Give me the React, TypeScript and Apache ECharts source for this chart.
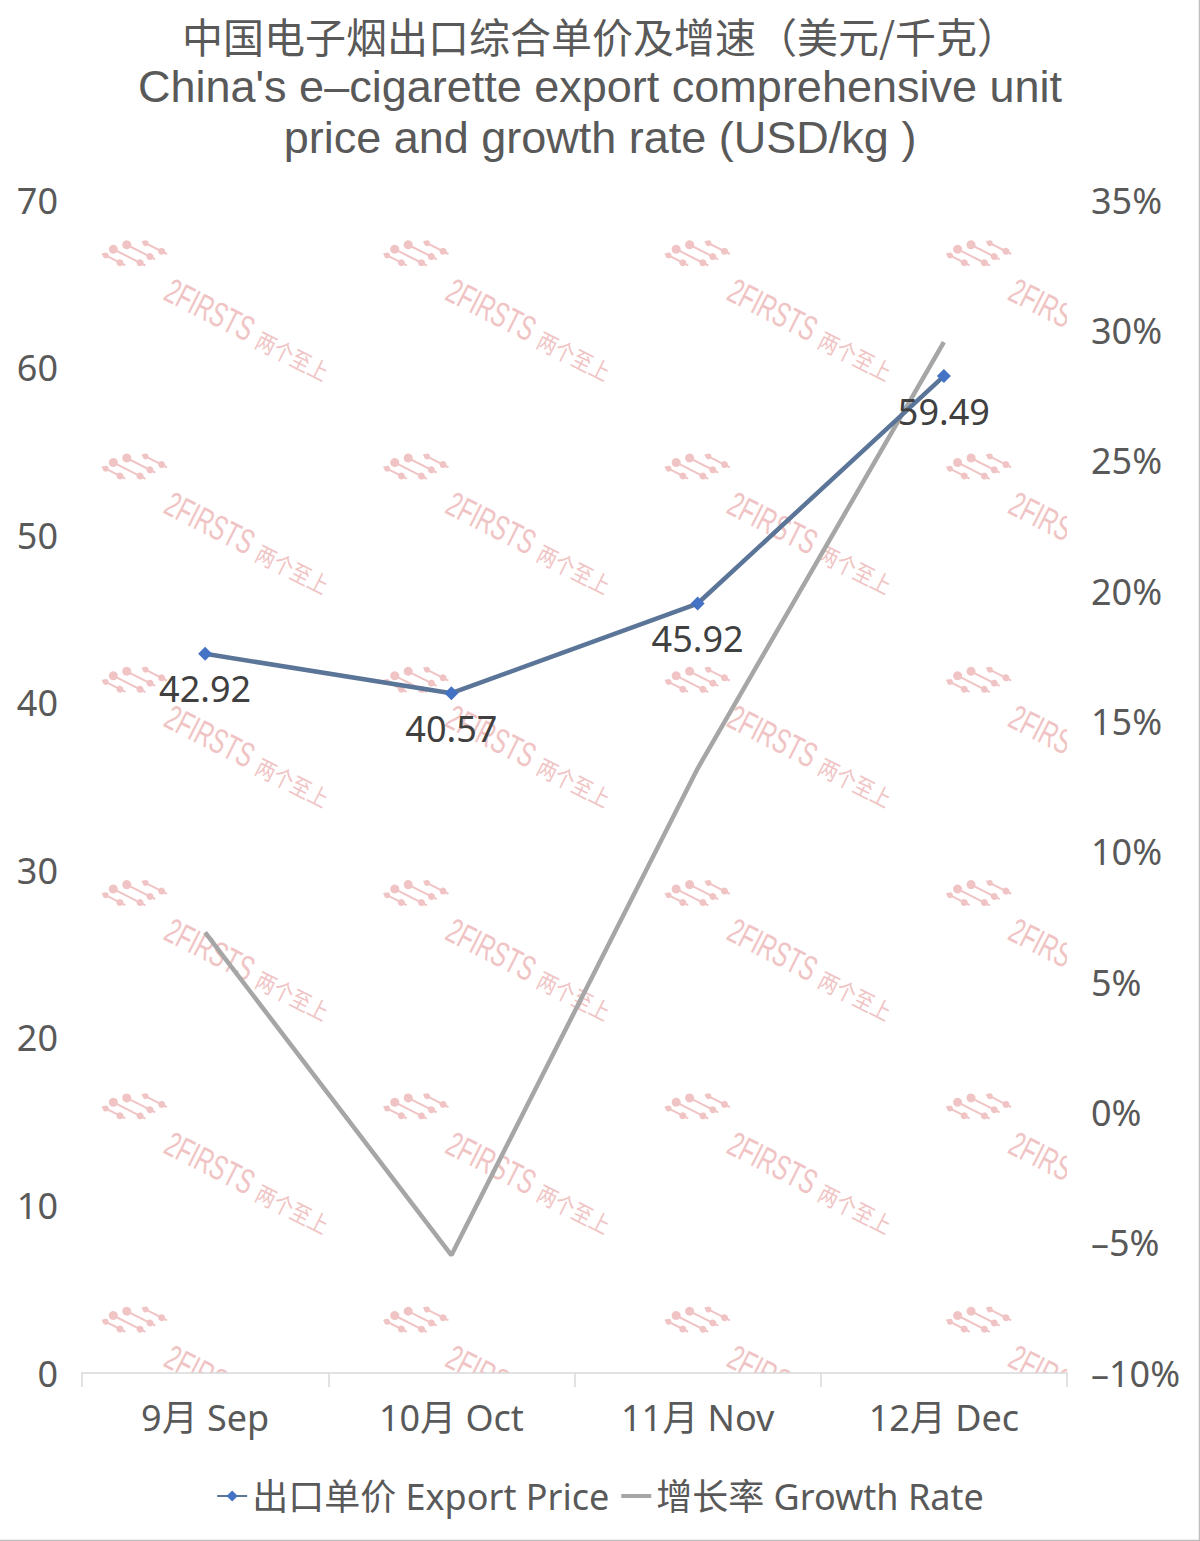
import React, { useEffect, useRef } from "react";
import * as echarts from "echarts";

const categories = ["9月 Sep", "10月 Oct", "11月 Nov", "12月 Dec"];
const exportPrice = [42.92, 40.57, 45.92, 59.49];
const growthRate = [0.069, -0.0548, 0.1319, 0.2955];
const leftTicks = { min: 0, max: 70, interval: 10 };
const rightTicks = { min: -0.1, max: 0.35, interval: 0.05 };
const titleLines = [
  "中国电子烟出口综合单价及增速（美元/千克）",
  "China's e–cigarette export comprehensive unit",
  "price and growth rate (USD/kg )",
];
const priceName = "出口单价 Export Price";
const growthName = "增长率 Growth Rate";

const FONT = "'Noto Sans', 'Noto Sans CJK SC', sans-serif";
const TITLE_LATIN = "'Liberation Sans', 'Noto Sans CJK SC', sans-serif";
const TITLE_CJK = "'Noto Sans CJK SC', sans-serif";
const WM = "#f0c4c4";

function watermark(ox: number, oy: number) {
  const dots: any[] = [];
  const rows = [
    [30, 58, -16],
    [14, 50, -6],
    [4, 44, 4],
    [0, 26, 13],
  ];
  rows.forEach(([a, b, y], k) => {
    dots.push({ type: "line", shape: { x1: a, y1: y, x2: b, y2: y }, style: { stroke: WM, lineWidth: 2 } });
    dots.push({ type: "circle", shape: { cx: a + 4, cy: y, r: k === 1 || k === 2 ? 4.5 : 3 }, style: { fill: WM } });
    dots.push({ type: "circle", shape: { cx: b - 6, cy: y, r: 3.5 }, style: { fill: WM } });
  });
  return {
    type: "group",
    x: ox,
    y: oy,
    rotation: -0.47,
    children: [
      ...dots,
      {
        type: "text",
        x: 74,
        y: 14,
        scaleX: 0.66,
        style: { text: "2FIRSTS", fontSize: 35, fontFamily: "'Liberation Sans', sans-serif", fill: WM, verticalAlign: "middle", align: "left" },
      },
      {
        type: "text",
        x: 177,
        y: 17,
        scaleX: 0.85,
        style: { text: "两个至上", fontSize: 23, fontFamily: "'Noto Sans CJK SC', sans-serif", fill: WM, verticalAlign: "middle", align: "left" },
      },
    ],
  };
}

export default function App() {
  const ref = useRef<HTMLDivElement>(null);
  useEffect(() => {
    document.body.style.margin = "0";
    const chart = echarts.init(ref.current!, undefined, { renderer: "svg" });
    const titleGraphics = titleLines.map((t, i) => ({
      type: "text",
      x: 600,
      y: 35 + i * 51,
      style: {
        text: t,
        align: "center",
        verticalAlign: "middle",
        fontSize: i === 0 ? 41 : 45,
        fontFamily: i === 0 ? TITLE_CJK : TITLE_LATIN,
        fill: "#595959",
      },
    }));
    const option: any = {
      animation: false,
      backgroundColor: "#ffffff",
      textStyle: { fontFamily: FONT },
      grid: { left: 82, right: 133, top: 200, bottom: 168, containLabel: false },
      legend: {
        data: [
          { name: priceName },
          { name: growthName, icon: "path://M0,0 L30,0 L30,4 L0,4 Z" },
        ],
        bottom: 22,
        left: "center",
        itemWidth: 30,
        itemHeight: 14,
        itemGap: 12,
        textStyle: { fontSize: 36, color: "#595959", fontFamily: FONT },
      },
      xAxis: {
        type: "category",
        data: categories,
        boundaryGap: true,
        axisLine: { lineStyle: { color: "#d9d9d9", width: 1.5 } },
        axisTick: { show: true, length: 14, lineStyle: { color: "#d9d9d9", width: 1.5 } },
        axisLabel: { fontSize: 36, color: "#595959", margin: 26, fontFamily: FONT },
        splitLine: { show: false },
      },
      yAxis: [
        {
          type: "value",
          min: leftTicks.min,
          max: leftTicks.max,
          interval: leftTicks.interval,
          axisLine: { show: false },
          axisTick: { show: false },
          splitLine: { show: false },
          axisLabel: { fontSize: 36, color: "#595959", margin: 24, fontFamily: FONT },
        },
        {
          type: "value",
          min: rightTicks.min,
          max: rightTicks.max,
          interval: rightTicks.interval,
          axisLine: { show: false },
          axisTick: { show: false },
          splitLine: { show: false },
          axisLabel: {
            fontSize: 36,
            color: "#595959",
            margin: 24,
            fontFamily: FONT,
            formatter: (v: number) => {
              const p = Math.round(v * 100);
              return (p < 0 ? "–" + Math.abs(p) : String(p)) + "%";
            },
          },
        },
      ],
      series: [
        {
          type: "custom",
          name: "wm",
          xAxisIndex: 0,
          yAxisIndex: 0,
          clip: true,
          silent: true,
          z: 0,
          data: [[0, 0]],
          renderItem: (params: any) => {
            const cs = params.coordSys;
            const children: any[] = [];
            for (let i = 0; i < 4; i++) {
              for (let j = 0; j < 6; j++) {
                children.push(watermark(cs.x + 26 + (cs.width * i) / 3.5, cs.y + 42 + (cs.height * j) / 5.5));
              }
            }
            return { type: "group", children };
          },
        },
        {
          name: growthName,
          type: "line",
          yAxisIndex: 1,
          data: growthRate,
          showSymbol: false,
          symbol: "none",
          lineStyle: { color: "#a6a6a6", width: 4.5 },
          itemStyle: { color: "#a6a6a6" },
          z: 2,
        },
        {
          name: priceName,
          type: "line",
          yAxisIndex: 0,
          data: exportPrice,
          symbol: "diamond",
          symbolSize: 14,
          lineStyle: { color: "#5a7597", width: 4.5 },
          itemStyle: { color: "#4472c4" },
          label: {
            show: true,
            position: "bottom",
            distance: 10,
            fontSize: 36,
            color: "#404040",
            fontFamily: FONT,
          },
          z: 3,
        },
      ],
      graphic: [
        ...titleGraphics,
        { type: "line", shape: { x1: 1199.5, y1: 0, x2: 1199.5, y2: 1541 }, style: { stroke: "#bfbfbf", lineWidth: 1.5 } },
        { type: "line", shape: { x1: 0, y1: 1540.5, x2: 1200, y2: 1540.5 }, style: { stroke: "#bfbfbf", lineWidth: 1.5 } },
      ],
    };
    chart.setOption(option);
    return () => chart.dispose();
  }, []);
  return <div ref={ref} style={{ width: 1200, height: 1541 }} />;
}
